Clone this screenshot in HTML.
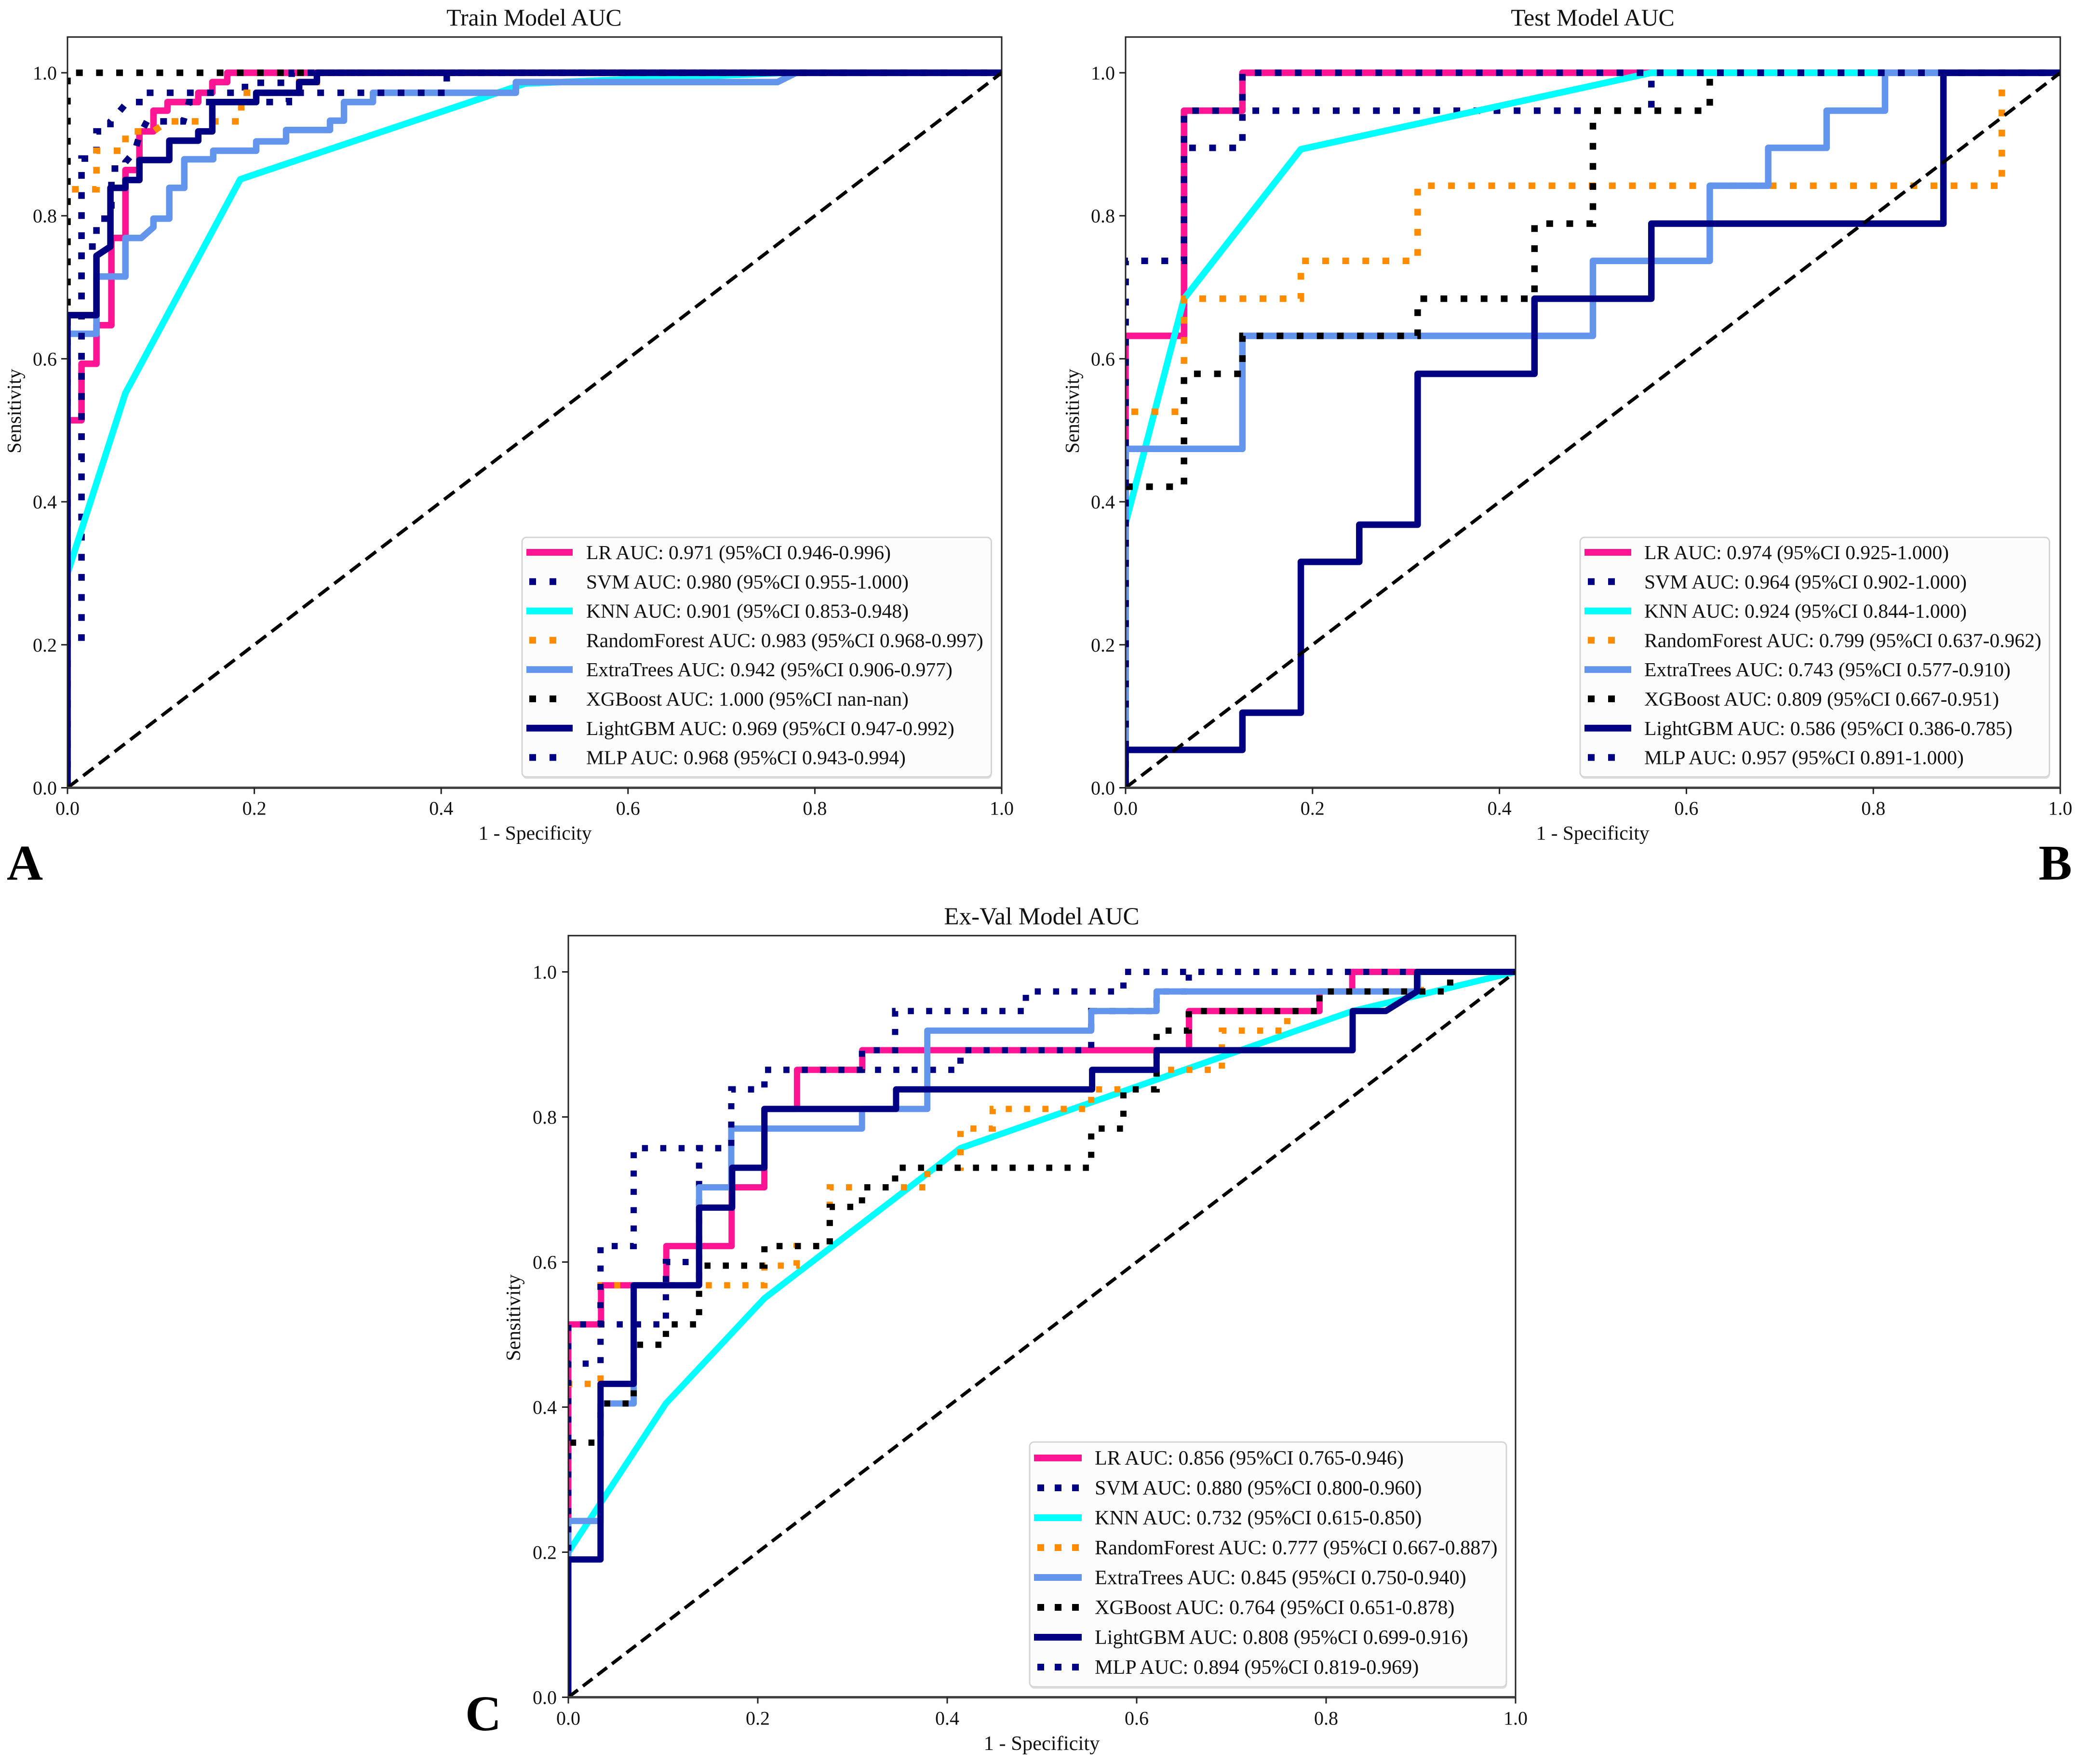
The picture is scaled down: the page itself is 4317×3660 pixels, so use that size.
<!DOCTYPE html>
<html lang="en">
<head>
<meta charset="utf-8">
<title>ROC curves: Train, Test and Ex-Val model AUC</title>
<style>
  html, body { margin: 0; padding: 0; background: #ffffff; }
  svg { display: block; font-family: "Liberation Serif", "Times New Roman", serif; }
</style>
</head>
<body>
<svg id="figure" xmlns="http://www.w3.org/2000/svg" width="4317" height="3660" viewBox="0 0 4317 3660">
  <rect x="0" y="0" width="4317" height="3660" fill="#ffffff"/>

  <text x="1108" y="53" font-size="49.8" text-anchor="middle" fill="#111">Train Model AUC</text>
  <text x="1110" y="1742" font-size="41.5" text-anchor="middle" fill="#111">1 - Specificity</text>
  <text transform="translate(43,853) rotate(-90)" font-size="41" text-anchor="middle" fill="#111">Sensitivity</text>
  <text x="14" y="1825" font-size="104" font-weight="bold" fill="#000">A</text>

  <text x="3304" y="53" font-size="49.8" text-anchor="middle" fill="#111">Test Model AUC</text>
  <text x="3304" y="1742" font-size="41.5" text-anchor="middle" fill="#111">1 - Specificity</text>
  <text transform="translate(2238,853) rotate(-90)" font-size="41" text-anchor="middle" fill="#111">Sensitivity</text>
  <text x="4229" y="1825" font-size="104" font-weight="bold" fill="#000">B</text>

  <text x="2161" y="1918" font-size="51" text-anchor="middle" fill="#111">Ex-Val Model AUC</text>
  <text x="2161" y="3631" font-size="42.5" text-anchor="middle" fill="#111">1 - Specificity</text>
  <text transform="translate(1079,2734) rotate(-90)" font-size="42" text-anchor="middle" fill="#111">Sensitivity</text>
  <text x="965" y="3590" font-size="104" font-weight="bold" fill="#000">C</text>

  <g id="panel-train"></g>
  <g id="panel-test"></g>
  <g id="panel-exval"></g>
</svg>

<script>
// ---------- shared axis data ----------
const tickValues = [0, 0.2, 0.4, 0.6, 0.8, 1];
const tickLabels = ['0.0', '0.2', '0.4', '0.6', '0.8', '1.0'];
const diagonalX = [0, 1];
const diagonalY = [0, 1];
const seriesNames = ['LR', 'SVM', 'KNN', 'RandomForest', 'ExtraTrees', 'XGBoost', 'LightGBM', 'MLP'];

// ---------- Train ----------
const trainLegend = [
  'LR AUC: 0.971 (95%CI 0.946-0.996)', 'SVM AUC: 0.980 (95%CI 0.955-1.000)',
  'KNN AUC: 0.901 (95%CI 0.853-0.948)', 'RandomForest AUC: 0.983 (95%CI 0.968-0.997)',
  'ExtraTrees AUC: 0.942 (95%CI 0.906-0.977)', 'XGBoost AUC: 1.000 (95%CI nan-nan)',
  'LightGBM AUC: 0.969 (95%CI 0.947-0.992)', 'MLP AUC: 0.968 (95%CI 0.943-0.994)'
];
const trainLRx = [0,0,.015,.015,.031,.031,.047,.047,.062,.062,.077,.077,.092,.092,.107,.107,.14,.14,.155,.155,.171,.171,1];
const trainLRy = [0,.514,.514,.593,.593,.647,.647,.769,.769,.864,.864,.918,.918,.947,.947,.959,.959,.972,.972,.987,.987,1,1];
const trainSVMx = [0,0,.015,.015,.031,.031,.046,.046,.055,.064,.077,.077,.19,.19,.24,.24,1];
const trainSVMy = [0,.21,.21,.88,.88,.918,.918,.932,.945,.959,.959,.972,.972,.986,.986,1,1];
const trainKNNx = [0,0,.062,.185,.49,.77,1];
const trainKNNy = [0,.3,.552,.851,.985,1,1];
const trainRFx = [0,0,.031,.031,.062,.062,.092,.107,.186,.186,.248,.248,.267,.267,1];
const trainRFy = [0,.837,.837,.891,.891,.918,.918,.932,.932,.972,.972,.987,.987,1,1];
const trainETx = [0,0,.031,.031,.062,.062,.079,.092,.092,.109,.109,.125,.125,.156,.156,.202,.202,.234,.234,.281,.281,.296,.296,.327,.327,.48,.48,.76,.76,.78,1];
const trainETy = [0,.635,.635,.715,.715,.769,.769,.784,.796,.796,.839,.839,.879,.879,.891,.891,.904,.904,.92,.92,.933,.933,.959,.959,.972,.972,.987,.987,.987,1,1];
const trainXGBx = [0,0,1];
const trainXGBy = [0,1,1];
const trainLGBx = [0,0,.031,.031,.046,.046,.062,.062,.077,.077,.109,.109,.14,.14,.155,.155,.202,.202,.248,.248,.267,.267,1];
const trainLGBy = [0,.661,.661,.744,.757,.839,.839,.85,.85,.878,.878,.905,.905,.918,.918,.959,.959,.972,.972,.987,.987,1,1];
const trainMLPx = [0,0,.015,.015,.031,.031,.047,.047,.062,.062,.072,.077,.085,.124,.13,.237,.237,.406,.406,1];
const trainMLPy = [0,.46,.46,.757,.757,.796,.796,.866,.866,.875,.89,.912,.932,.932,.959,.959,.972,.972,1,1];

// ---------- Test ----------
const testLegend = [
  'LR AUC: 0.974 (95%CI 0.925-1.000)', 'SVM AUC: 0.964 (95%CI 0.902-1.000)',
  'KNN AUC: 0.924 (95%CI 0.844-1.000)', 'RandomForest AUC: 0.799 (95%CI 0.637-0.962)',
  'ExtraTrees AUC: 0.743 (95%CI 0.577-0.910)', 'XGBoost AUC: 0.809 (95%CI 0.667-0.951)',
  'LightGBM AUC: 0.586 (95%CI 0.386-0.785)', 'MLP AUC: 0.957 (95%CI 0.891-1.000)'
];
const testLRx = [0,0,.0625,.0625,.125,.125,1];
const testLRy = [0,.632,.632,.947,.947,1,1];
const testSVMx = [0,0,.0625,.0625,.125,.125,.5625,.5625,1];
const testSVMy = [0,.737,.737,.895,.895,.947,.947,1,1];
const testKNNx = [0,0,.0625,.1875,.5625,1];
const testKNNy = [0,.37,.684,.893,1,1];
const testRFx = [0,0,.0625,.0625,.1875,.1875,.3125,.3125,.9375,.9375,1];
const testRFy = [0,.526,.526,.684,.684,.737,.737,.842,.842,1,1];
const testETx = [0,0,.125,.125,.5,.5,.625,.625,.6875,.6875,.75,.75,.8125,.8125,1];
const testETy = [0,.474,.474,.632,.632,.737,.737,.842,.842,.895,.895,.947,.947,1,1];
const testXGBx = [0,0,.0625,.0625,.125,.125,.3125,.3125,.4375,.4375,.5,.5,.625,.625,1];
const testXGBy = [0,.421,.421,.579,.579,.632,.632,.684,.684,.789,.789,.947,.947,1,1];
const testLGBx = [0,0,.125,.125,.1875,.1875,.25,.25,.3125,.3125,.4375,.4375,.5625,.5625,.875,.875,1];
const testLGBy = [0,.053,.053,.105,.105,.316,.316,.368,.368,.579,.579,.684,.684,.789,.789,1,1];
const testMLPx = [0,0,.0625,.0625,.125,.125,1];
const testMLPy = [0,.737,.737,.947,.947,1,1];

// ---------- Ex-Val ----------
const exvalLegend = [
  'LR AUC: 0.856 (95%CI 0.765-0.946)', 'SVM AUC: 0.880 (95%CI 0.800-0.960)',
  'KNN AUC: 0.732 (95%CI 0.615-0.850)', 'RandomForest AUC: 0.777 (95%CI 0.667-0.887)',
  'ExtraTrees AUC: 0.845 (95%CI 0.750-0.940)', 'XGBoost AUC: 0.764 (95%CI 0.651-0.878)',
  'LightGBM AUC: 0.808 (95%CI 0.699-0.916)', 'MLP AUC: 0.894 (95%CI 0.819-0.969)'
];
const exvalLRx = [0,0,.0345,.0345,.1034,.1034,.1724,.1724,.2069,.2069,.2414,.2414,.3103,.3103,.6552,.6552,.7931,.7931,.8276,.8276,1];
const exvalLRy = [0,.514,.514,.568,.568,.622,.622,.703,.703,.811,.811,.865,.865,.892,.892,.946,.946,.973,.973,1,1];
const exvalSVMx = [0,0,.103,.103,.138,.138,.172,.172,.207,.207,.414,.414,.552,.552,.621,.621,.655,.655,1];
const exvalSVMy = [0,.514,.514,.6,.6,.757,.757,.838,.838,.865,.865,.892,.892,.946,.946,.973,.973,1,1];
const exvalKNNx = [0,0,.103,.207,.414,.828,1];
const exvalKNNy = [0,.2,.405,.55,.757,.946,1];
const exvalRFx = [0,0,.034,.034,.207,.207,.241,.241,.276,.276,.379,.379,.414,.414,.448,.448,.552,.552,.621,.621,.69,.69,.759,.759,.793,.793,.9,.9,1];
const exvalRFy = [0,.432,.432,.568,.568,.595,.595,.622,.622,.703,.703,.73,.73,.784,.784,.811,.811,.838,.838,.865,.865,.919,.919,.946,.946,.973,.973,1,1];
const exvalETx = [0,0,.034,.034,.069,.069,.138,.138,.172,.172,.31,.31,.379,.379,.552,.552,.621,.621,.897,.897,1];
const exvalETy = [0,.243,.243,.405,.405,.568,.568,.703,.703,.784,.784,.811,.811,.919,.919,.946,.946,.973,.973,1,1];
const exvalXGBx = [0,0,.034,.034,.069,.069,.103,.103,.138,.138,.207,.207,.276,.276,.31,.31,.345,.345,.552,.552,.586,.586,.621,.621,.655,.655,.793,.793,.931,.931,1];
const exvalXGBy = [0,.351,.351,.405,.405,.486,.486,.514,.514,.595,.595,.622,.622,.676,.676,.703,.703,.73,.73,.784,.784,.838,.838,.919,.919,.946,.946,.973,.973,1,1];
const exvalLGBx = [0,0,.034,.034,.069,.069,.138,.138,.173,.173,.207,.207,.346,.346,.553,.553,.621,.621,.828,.828,.863,.896,.896,1];
const exvalLGBy = [0,.19,.19,.432,.432,.568,.568,.675,.675,.73,.73,.811,.811,.838,.838,.865,.865,.892,.892,.946,.946,.973,1,1];
const exvalMLPx = [0,0,.034,.034,.069,.069,.172,.172,.207,.207,.31,.31,.345,.345,.483,.483,.586,.586,1];
const exvalMLPy = [0,.46,.46,.622,.622,.757,.757,.838,.838,.865,.865,.892,.892,.946,.946,.973,.973,1,1];

// ---------- series styling ----------
const NS = 'http://www.w3.org/2000/svg';
const seriesColors = ['#ff1493', '#000080', '#00ffff', '#ff8c00', '#6495ed', '#000000', '#000080', '#000080'];
const seriesDotted = [false, true, false, true, false, true, false, true];

function make(tag, attrs, parent) {
  const el = document.createElementNS(NS, tag);
  for (const k in attrs) el.setAttribute(k, attrs[k]);
  parent.appendChild(el);
  return el;
}

function drawPanel(cfg, curvesX, curvesY, legendLabels) {
  const root = document.getElementById(cfg.id);
  const sx = v => cfg.x0 + v * (cfg.x1 - cfg.x0);
  const sy = v => cfg.y0 + v * (cfg.y1 - cfg.y0);
  const top = sy(1.05);

  const defs = make('defs', {}, root);
  const clip = make('clipPath', { id: cfg.id + '-clip' }, defs);
  make('rect', { x: cfg.x0, y: top, width: cfg.x1 - cfg.x0, height: cfg.y0 - top }, clip);

  const plot = make('g', { 'clip-path': 'url(#' + cfg.id + '-clip)' }, root);
  
  

  curvesX.forEach((xs, i) => {
    const d = xs.map((x, j) => (j ? 'L' : 'M') + sx(x).toFixed(1) + ' ' + sy(curvesY[i][j]).toFixed(1)).join(' ');
    const path = make('path', {
      d: d, fill: 'none', stroke: seriesColors[i], 'stroke-width': cfg.lw,
      'stroke-linejoin': seriesDotted[i] ? 'miter' : 'round',
      'stroke-dasharray': seriesDotted[i] ? cfg.dot : 'none'
    }, plot);
    
    
  });

  const diag = make('line', {
    x1: sx(diagonalX[0]), y1: sy(diagonalY[0]), x2: sx(diagonalX[1]), y2: sy(diagonalY[1]),
    stroke: '#000', 'stroke-width': 7, 'stroke-dasharray': cfg.dash
  }, plot);
  
  

  // frame
  const frame = make('rect', {
    x: cfg.x0, y: top, width: cfg.x1 - cfg.x0, height: cfg.y0 - top,
    fill: 'none', stroke: '#222', 'stroke-width': 3
  }, root);
  
  
  const bottom = make('line', { x1: cfg.x0, x2: cfg.x1, y1: cfg.y0, y2: cfg.y0, stroke: '#444', 'stroke-width': 5 }, root);
  
  

  // ticks
  tickValues.forEach((v, i) => {
    const xt = make('line', { x1: sx(v), x2: sx(v), y1: cfg.y0, y2: cfg.y0 + 13, stroke: '#222', 'stroke-width': 3 }, root);
    
    
    const xl = make('text', { x: sx(v), y: cfg.y0 + cfg.xTickDy, 'font-size': 40, 'text-anchor': 'middle', fill: '#111' }, root);
    xl.textContent = tickLabels[i];
    
    
    const yt = make('line', { x1: cfg.x0 - 13, x2: cfg.x0, y1: sy(v), y2: sy(v), stroke: '#222', 'stroke-width': 3 }, root);
    
    
    const yl = make('text', { x: cfg.x0 - cfg.yTickDx, y: sy(v) + 14, 'font-size': 40, 'text-anchor': 'end', fill: '#111' }, root);
    yl.textContent = tickLabels[i];
    
    
  });

  // legend
  const L = cfg.legend;
  const legend = make('g', {}, root);
  
  
  make('rect', { x: L.left + 1, y: L.top + 4, width: L.right - L.left, height: L.bottom - L.top, rx: 9, fill: '#bbb', opacity: 0.45 }, legend);
  make('rect', { x: L.left, y: L.top, width: L.right - L.left, height: L.bottom - L.top, rx: 9, fill: '#fff', 'fill-opacity': 0.9, stroke: '#d4d4d4', 'stroke-width': 3 }, legend);
  legendLabels.forEach((label, i) => {
    const y = L.firstRow + i * L.step;
    const dotted = seriesDotted[i];
    const handle = make('line', {
      x1: dotted ? L.dotStart : L.handle0, x2: dotted ? L.dotEnd : L.handle1, y1: y, y2: y,
      stroke: seriesColors[i], 'stroke-width': 14, 'stroke-dasharray': dotted ? L.dot : 'none'
    }, legend);
    
    
    const text = make('text', { x: L.textX, y: y + 14, 'font-size': L.fontSize, fill: '#111' }, legend);
    text.textContent = label;
    
    
  });
}

drawPanel({
  id: 'panel-train', key: 'train', x0: 140, x1: 2078, y0: 1634.5, y1: 151, lw: 13.5,
  dot: '14 27.7', dash: '27 14', xTickDy: 56, yTickDx: 22,
  legend: { left: 1083, right: 2056.5, top: 1115, bottom: 1612, firstRow: 1146, step: 60.8, fontSize: 41.6,
    handle0: 1092, handle1: 1188, dotStart: 1098, dotEnd: 1155, dot: '14 28', textX: 1216 }
}, [trainLRx, trainSVMx, trainKNNx, trainRFx, trainETx, trainXGBx, trainLGBx, trainMLPx],
   [trainLRy, trainSVMy, trainKNNy, trainRFy, trainETy, trainXGBy, trainLGBy, trainMLPy], trainLegend);

drawPanel({
  id: 'panel-test', key: 'test', x0: 2335, x1: 4274, y0: 1634.5, y1: 151, lw: 13.5,
  dot: '14 27.7', dash: '27 14', xTickDy: 56, yTickDx: 22,
  legend: { left: 3278, right: 4251.5, top: 1115, bottom: 1612, firstRow: 1146, step: 60.8, fontSize: 41.6,
    handle0: 3287, handle1: 3384, dotStart: 3294, dotEnd: 3351, dot: '14 28', textX: 3411 }
}, [testLRx, testSVMx, testKNNx, testRFx, testETx, testXGBx, testLGBx, testMLPx],
   [testLRy, testSVMy, testKNNy, testRFy, testETy, testXGBy, testLGBy, testMLPy], testLegend);

drawPanel({
  id: 'panel-exval', key: 'exval', x0: 1179, x1: 3144, y0: 3521.5, y1: 2016.5, lw: 13,
  dot: '12.5 25.5', dash: '25 13', xTickDy: 57, yTickDx: 24,
  legend: { left: 2136, right: 3125, top: 2992, bottom: 3500, firstRow: 3025, step: 62, fontSize: 42.2,
    handle0: 2145, handle1: 2244, dotStart: 2152, dotEnd: 2238, dot: '14 22', textX: 2271 }
}, [exvalLRx, exvalSVMx, exvalKNNx, exvalRFx, exvalETx, exvalXGBx, exvalLGBx, exvalMLPx],
   [exvalLRy, exvalSVMy, exvalKNNy, exvalRFy, exvalETy, exvalXGBy, exvalLGBy, exvalMLPy], exvalLegend);
</script>
</body>
</html>
